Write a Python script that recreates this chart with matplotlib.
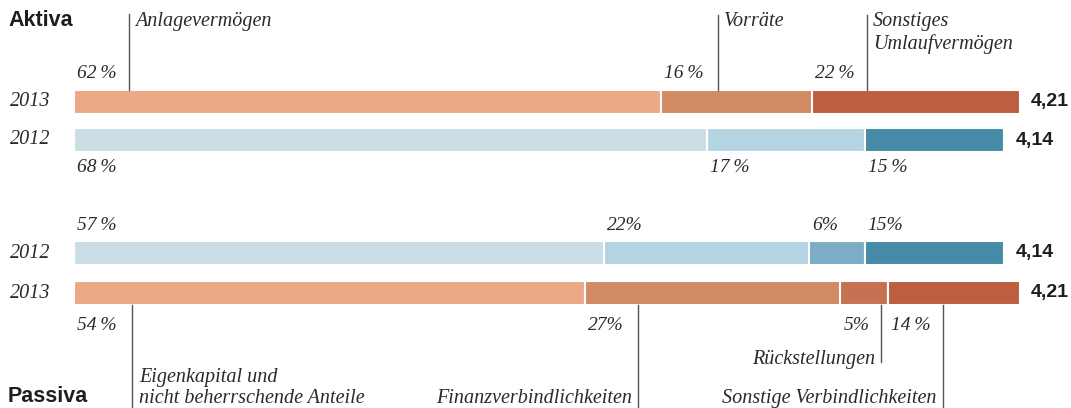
import matplotlib
matplotlib.use("Agg")
import matplotlib.pyplot as plt

# Bilanzstruktur, Mrd. Euro gesamt und Anteile in %
aktiva_2013 = [62, 16, 22]
aktiva_2012 = [68, 17, 15]
passiva_2012 = [57, 22, 6, 15]
passiva_2013 = [54, 27, 5, 14]
total_2013 = 4.21
total_2012 = 4.14

aktiva_labels = ["Anlagevermögen", "Vorräte", "Sonstiges\nUmlaufvermögen"]
passiva_labels = ["Eigenkapital und\nnicht beherrschende Anteile", "Finanzverbindlichkeiten",
                  "Rückstellungen", "Sonstige Verbindlichkeiten"]

pct_aktiva_2013 = ["62\u2009%", "16\u2009%", "22\u2009%"]
pct_aktiva_2012 = ["68\u2009%", "17\u2009%", "15\u2009%"]
pct_passiva_2012 = ["57\u2009%", "22%", "6%", "15%"]
pct_passiva_2013 = ["54\u2009%", "27%", "5%", "14\u2009%"]

orange = ["#eda985", "#d18a63", "#be5e40"]
orange4 = ["#eda985", "#d18a63", "#c87152", "#be5e40"]
blue = ["#ccdde5", "#b5d4e3", "#468ca8"]
blue4 = ["#ccdde5", "#b5d4e3", "#7baec6", "#468ca8"]

serif = "Liberation Serif"
sans = "Liberation Sans"
txt = "#2a2a2a"
linec = "#555555"

fig = plt.figure(figsize=(10.71, 4.08), dpi=100)
ax = fig.add_axes([0, 0, 1, 1])
scale = 946 / total_2013  # px per Mrd
ax.set_xlim(-74 / scale, (1071 - 74) / scale)
ax.set_ylim(408, 0)
ax.axis("off")


def stacked(y, h, pcts, total, colors):
    left = 0
    starts = []
    for p, c in zip(pcts, colors):
        w = total * p / 100
        ax.barh(y, w, left=left, height=h, color=c, edgecolor="white", linewidth=1.5)
        starts.append(left)
        left += w
    return starts


rows = [
    (101.5, aktiva_2013, total_2013, orange, pct_aktiva_2013, "2013", 73),
    (140, aktiva_2012, total_2012, blue, pct_aktiva_2012, "2012", 168),
    (253, passiva_2012, total_2012, blue4, pct_passiva_2012, "2012", 226),
    (293, passiva_2013, total_2013, orange4, pct_passiva_2013, "2013", 325),
]
for y, pcts, total, cols, plabels, year, py in rows:
    starts = stacked(y, 24, pcts, total, cols)
    for s, lab in zip(starts, plabels):
        ax.text(s + 3 / scale, py, lab, family=serif, style="italic", fontsize=14,
                color=txt, ha="left", va="center")
    ax.text(-64 / scale, y, year, family=serif, style="italic", fontsize=14.5,
            color=txt, ha="left", va="center")
    ax.text(total + 11 / scale, y, "{:.2f}".format(total).replace(".", ","),
            family=sans, fontweight="bold", fontsize=14, color="#1e1e1e",
            ha="left", va="center")

ax.text(-66 / scale, 20, "Aktiva", family=sans, fontweight="bold", fontsize=15.5,
        color="#1e1e1e", ha="left", va="center")
ax.text(-66 / scale, 397, "Passiva", family=sans, fontweight="bold", fontsize=15.5,
        color="#1e1e1e", ha="left", va="center")

# Beschriftungen Aktiva (oben)
ak_x = [0.245, 2.866, 3.529]
ak_top = [14, 15, 15]
for x, t, lab in zip(ak_x, ak_top, aktiva_labels):
    ax.plot([x, x], [t, 89.5], color=linec, lw=1)
    ax.text(x + 6 / scale, 12, lab, family=serif, style="italic", fontsize=14.5,
            color=txt, ha="left", va="top", linespacing=1.2)

# Beschriftungen Passiva (unten)
pa_x = [0.258, 2.510, 3.591, 3.867]
pa_bot = [408, 408, 362, 408]
pa_ty = [395, 395, 356, 395]
pa_ha = ["left", "right", "right", "right"]
for x, b, ty, ha, lab in zip(pa_x, pa_bot, pa_ty, pa_ha, passiva_labels):
    ax.plot([x, x], [305, b], color=linec, lw=1)
    dx = 7 / scale if ha == "left" else -6 / scale
    ax.text(x + dx, ty + 8, lab, family=serif, style="italic", fontsize=14.5,
            color=txt, ha=ha, va="baseline", linespacing=1.15)

fig.savefig("out.png", dpi=100)
